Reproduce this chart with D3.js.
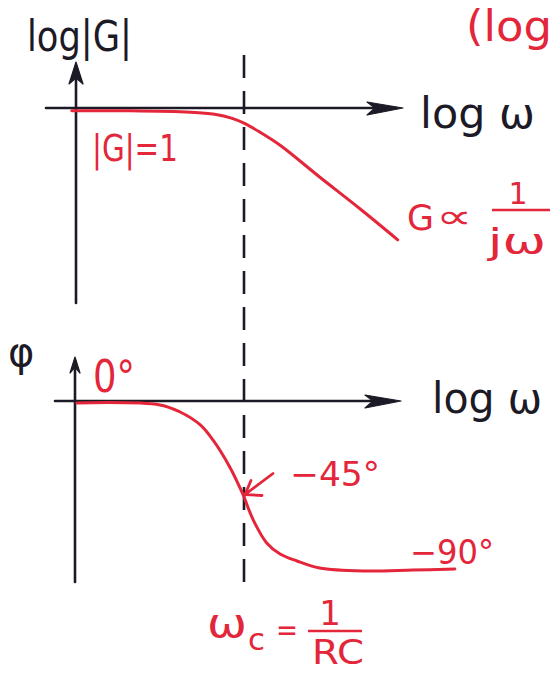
<!DOCTYPE html>
<html>
<head>
<meta charset="utf-8">
<script src="https://cdn.jsdelivr.net/npm/d3@7"></script>
<style>
  html, body { margin: 0; padding: 0; background: #ffffff; }
  svg { display: block; }
  text { font-family: "DejaVu Sans", sans-serif; }
</style>
</head>
<body>
<svg id="chart" width="554" height="673"></svg>
<script>
// Bode plot of a first-order RC low-pass: gain and phase vs log ω
// Frequencies in decades relative to the corner ωc (0 = ωc)

// Magnitude curve: log ω (decades) and log|G| (decades)
const magLogW = [-2.05, -1.36, -0.64, -0.35, -0.14, 0.0, 0.19, 0.43, 0.90, 1.38, 1.83];
const magLogG = [-0.04, -0.04, -0.06, -0.09, -0.15, -0.22, -0.35, -0.54, -1.00, -1.46, -1.91];

// Phase curve: log ω (decades) and phase (degrees)
const phLogW = [-1.99, -1.00, -0.76, -0.52, -0.37, -0.17, -0.02, 0.11, 0.27, 0.43, 0.63, 0.90, 1.42, 2.01, 2.51];
const phDeg  = [-1.0, -2.1, -5.8, -12.6, -20.5, -34.7, -48.4, -62.6, -74.7, -80.5, -84.2, -87.9, -89.5, -89.0, -88.4];

// Labelled phase levels
const phaseMarks = [0, -45, -90];
const cornerLogW = 0;

const INK = "#1c1a26";
const RED = "#e3263a";

const svg = d3.select("#chart");

const x = d3.scaleLinear().domain([-2, 2]).range([76, 412]);
const yMag = d3.scaleLinear().domain([0, -2.8]).range([108, 301.2]);
const yPh = d3.scaleLinear().domain([0, -90]).range([401, 572]);

// ---------- axes ----------
function hArrow(g, x0, x1, y) {
  g.append("line").attr("x1", x0).attr("x2", x1 - 8).attr("y1", y).attr("y2", y)
    .attr("stroke", INK).attr("stroke-width", 2.6).attr("stroke-linecap", "round");
  g.append("path")
    .attr("d", `M${x1},${y} L${x1 - 36},${y - 6} L${x1 - 28},${y} L${x1 - 36},${y + 7} Z`)
    .attr("fill", INK).attr("stroke", INK).attr("stroke-width", 1.2).attr("stroke-linejoin", "round");
}
function vArrow(g, xx, y0, y1, len, half) {
  g.append("line").attr("x1", xx).attr("x2", xx).attr("y1", y0).attr("y2", y1 + 4)
    .attr("stroke", INK).attr("stroke-width", 2.6).attr("stroke-linecap", "round");
  g.append("path")
    .attr("d", `M${xx},${y1} L${xx - half},${y1 + len} L${xx},${y1 + len - 6} L${xx + half},${y1 + len} Z`)
    .attr("fill", INK).attr("stroke", INK).attr("stroke-width", 1.2).attr("stroke-linejoin", "round");
}

const axes = svg.append("g");
// gain plot
hArrow(axes, 46, 403, yMag(0));
vArrow(axes, x(-2), 303, 62, 22, 7);
// phase plot
hArrow(axes, 55, 401, yPh(0));
vArrow(axes, x(-2) - 1, 582, 357, 16, 5);

// corner frequency marker
svg.append("line")
  .attr("x1", x(cornerLogW)).attr("x2", x(cornerLogW))
  .attr("y1", 55).attr("y2", 586)
  .attr("stroke", INK).attr("stroke-width", 2.6)
  .attr("stroke-dasharray", "23,13");

// ---------- curves ----------
const magLine = d3.line()
  .x((d, i) => x(magLogW[i]))
  .y((d, i) => yMag(magLogG[i]))
  .curve(d3.curveCatmullRom.alpha(0.5));
svg.append("path")
  .attr("d", magLine(magLogW))
  .attr("fill", "none").attr("stroke", RED).attr("stroke-width", 3)
  .attr("stroke-linecap", "round");

const phLine = d3.line()
  .x((d, i) => x(phLogW[i]))
  .y((d, i) => yPh(phDeg[i]))
  .curve(d3.curveCatmullRom.alpha(0.5));
svg.append("path")
  .attr("d", phLine(phLogW))
  .attr("fill", "none").attr("stroke", RED).attr("stroke-width", 3)
  .attr("stroke-linecap", "round");

// ---------- labels ----------
function label(txt, px, py, size, color, width, anchor) {
  const t = svg.append("text")
    .attr("x", px).attr("y", py)
    .attr("font-size", size)
    .attr("fill", color)
    .attr("text-anchor", anchor || "start")
    .text(txt);
  if (width) t.attr("textLength", width).attr("lengthAdjust", "spacingAndGlyphs");
  return t;
}

// axis titles
label("log|G|", 27, 51, 42, INK, 105);
label("log ω", 420, 128, 42, INK, 115);
label("log ω", 432, 413, 42, INK, 110);
label("φ", 8, 366, 40, INK);
label("(log", 466, 41, 42, RED, 86);

// gain annotations
label("|G|=1", 92, 161, 38, RED, 86);
label("G", 407, 230, 36, RED, 27);
label("∝", 436, 228, 34, RED, 36);
label("1", 518, 204, 30, RED, null, "middle");
svg.append("line").attr("x1", 492).attr("x2", 550).attr("y1", 210).attr("y2", 210)
  .attr("stroke", RED).attr("stroke-width", 2.6);
label("jω", 517, 254, 36, RED, 58, "middle");

// phase annotations
label(phaseMarks[0] + "°", 93, 392, 44, RED, 42);
label("−" + Math.abs(phaseMarks[1]) + "°", 290, 486, 34, RED, 90);
label("−" + Math.abs(phaseMarks[2]) + "°", 410, 564, 34, RED, 84);

// arrow pointing at the -45° crossing
const ax = x(cornerLogW) + 1, ay = yPh(phaseMarks[1]) + 8;
svg.append("path")
  .attr("d", `M${ax + 28},${ay - 21} L${ax},${ay} M${ax},${ay} L${ax + 6},${ay - 14} M${ax},${ay} L${ax + 17},${ay + 1}`)
  .attr("fill", "none").attr("stroke", RED).attr("stroke-width", 2.8)
  .attr("stroke-linecap", "round");

// corner frequency label
label("ω", 207, 637, 40, RED, 40);
label("c", 248, 650, 30, RED, 17);
label("=", 276, 640, 30, RED, 22);
label("1", 330, 625, 34, RED, null, "middle");
svg.append("line").attr("x1", 308).attr("x2", 362).attr("y1", 631).attr("y2", 631)
  .attr("stroke", RED).attr("stroke-width", 2.6);
label("RC", 338, 664, 33, RED, 52, "middle");
</script>
</body>
</html>
